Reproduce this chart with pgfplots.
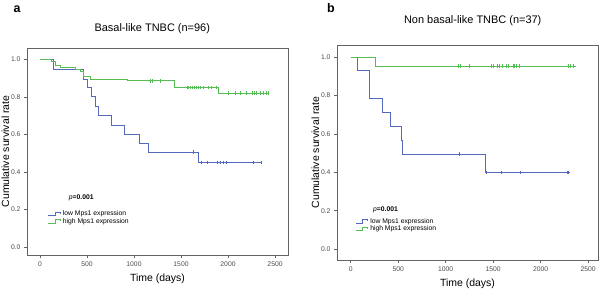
\documentclass[border=0pt]{standalone}
\usepackage{fontspec}
\setmainfont{Liberation Sans}
\usepackage{pgfplots}
\pgfplotsset{compat=1.18}
\definecolor{kmblue}{RGB}{84,104,190}
\definecolor{kmgreen}{RGB}{84,190,84}
\definecolor{frame}{RGB}{100,100,100}
\pgfplotsset{
  km/.style={
    scale only axis,
    axis line style={frame, line width=0.9bp},
    xtick={0,500,1000,1500,2000,2500},
    ytick={0,0.2,0.4,0.6,0.8,1.0},
    yticklabel style={/pgf/number format/.cd,fixed,fixed zerofill,precision=1},
    xticklabel style={/pgf/number format/.cd,1000 sep={}},
    tick style={frame, line width=0.5bp},
    tick align=outside, tick pos=left,
    major tick length=3bp,
    ticklabel style={font=\fontsize{6.8}{7.5}\selectfont, text=black!70},
    /pgf/number format/assume math mode=true,
    label style={font=\fontsize{10.5}{12}\selectfont},
    title style={font=\fontsize{11}{12}\selectfont},
    legend style={draw=none, fill=none, font=\fontsize{6.8}{7.5}\selectfont, row sep=-2.8bp, inner sep=0pt, legend cell align=left},
    legend image code/.code={\draw[#1, line width=0.8bp] (0bp,-1.6bp) -- (7bp,-1.6bp) -- (7bp,1.6bp) -- (12bp,1.6bp) -- (12bp,0bp);},
    xlabel={Time (days)}, ylabel={Cumulative survival rate},
    xlabel style={yshift=-1bp},
    ylabel style={yshift=-5bp},
  },
  cens/.style={only marks, mark=|, mark size=1.8bp, mark options={line width=0.6bp}, forget plot},
}
\begin{document}
\begin{tikzpicture}
\path[use as bounding box] (0,0) rectangle (600bp,-291bp);
\node[font=\bfseries\fontsize{12.5}{13}\selectfont] at (17bp,-9bp) {a};
\node[font=\bfseries\fontsize{12.5}{13}\selectfont] at (331bp,-8bp) {b};
% Panel a
\begin{axis}[km, at={(27bp,-255bp)}, anchor=south west, width=261bp, height=207bp,
  xmin=-138, xmax=2638, ymin=-0.044, ymax=1.06,
  title={Basal-like TNBC (n=96)}, title style={at={(0.48,1)}, yshift=5bp},
  legend style={at={(0.08,0.225)}, anchor=north west}]
\addplot[kmblue, line width=0.7bp, const plot] coordinates {
(0,1.0) (142,0.946) (461,0.895) (503,0.85) (543,0.80) (585,0.75) (624,0.70) (755,0.65) (894,0.60) (1057,0.55) (1152,0.505) (1684,0.45) (2358,0.45)};
\addlegendentry{low Mps1 expression}
\addplot[kmgreen, line width=0.7bp, const plot] coordinates {
(0,1.0) (124,0.99) (160,0.97) (213,0.955) (372,0.945) (426,0.935) (461,0.91) (539,0.895) (933,0.885) (1429,0.85) (1897,0.82) (2429,0.82)};
\addlegendentry{high Mps1 expression}
\addplot[kmblue, cens] coordinates {(1631,0.505) (1716,0.45) (1777,0.45) (1883,0.45) (1922,0.45) (1954,0.45) (1982,0.45) (2270,0.45) (2358,0.45)};
\addplot[kmgreen, cens] coordinates {(1170,0.885) (1190,0.885) (1277,0.885)
(1565,0.85) (1580,0.85) (1600,0.85) (1620,0.85) (1640,0.85) (1660,0.85) (1680,0.85) (1700,0.85) (1738,0.85) (1790,0.85) (1820,0.85) (1880,0.85)
(2004,0.82) (2075,0.82) (2128,0.82) (2199,0.82) (2260,0.82) (2280,0.82) (2305,0.82) (2340,0.82) (2375,0.82) (2411,0.82) (2429,0.82)};
\node[anchor=west, font=\fontsize{6.8}{7.5}\selectfont] at (axis cs:270,0.263) {\textit{p}\textbf{=0.001}};
\end{axis}
% Panel b
\begin{axis}[km, at={(337bp,-260bp)}, anchor=south west, width=261bp, height=215bp,
  xmin=-144, xmax=2603, ymin=-0.057, ymax=1.064,
  title={Non basal-like TNBC (n=37)}, title style={at={(0.52,1)}, yshift=10bp},
  legend style={at={(0.07,0.205)}, anchor=north west}]
\addplot[kmblue, line width=0.7bp, const plot] coordinates {
(0,1.0) (74,0.93) (196,0.855) (200,0.786) (337,0.713) (421,0.638) (537,0.569) (540,0.496) (1414,0.40) (2310,0.40)};
\addlegendentry{low Mps1 expression}
\addplot[kmgreen, line width=0.7bp, const plot] coordinates {
(0,1.0) (263,0.955) (2373,0.955)};
\addlegendentry{high Mps1 expression}
\addplot[kmblue, cens] coordinates {(1143,0.496) (1424,0.40) (1582,0.40) (1789,0.40) (2275,0.40) (2293,0.40)};
\addplot[kmgreen, cens] coordinates {(1133,0.955) (1150,0.955) (1249,0.955) (1485,0.955) (1503,0.955) (1545,0.955) (1566,0.955) (1598,0.955) (1643,0.955) (1661,0.955) (1714,0.955) (1724,0.955) (1745,0.955) (1773,0.955) (2293,0.955) (2310,0.955) (2345,0.955)};
\node[anchor=west, font=\fontsize{6.8}{7.5}\selectfont] at (axis cs:200,0.205) {\textit{p}\textbf{=0.001}};
\end{axis}
\end{tikzpicture}
\end{document}
